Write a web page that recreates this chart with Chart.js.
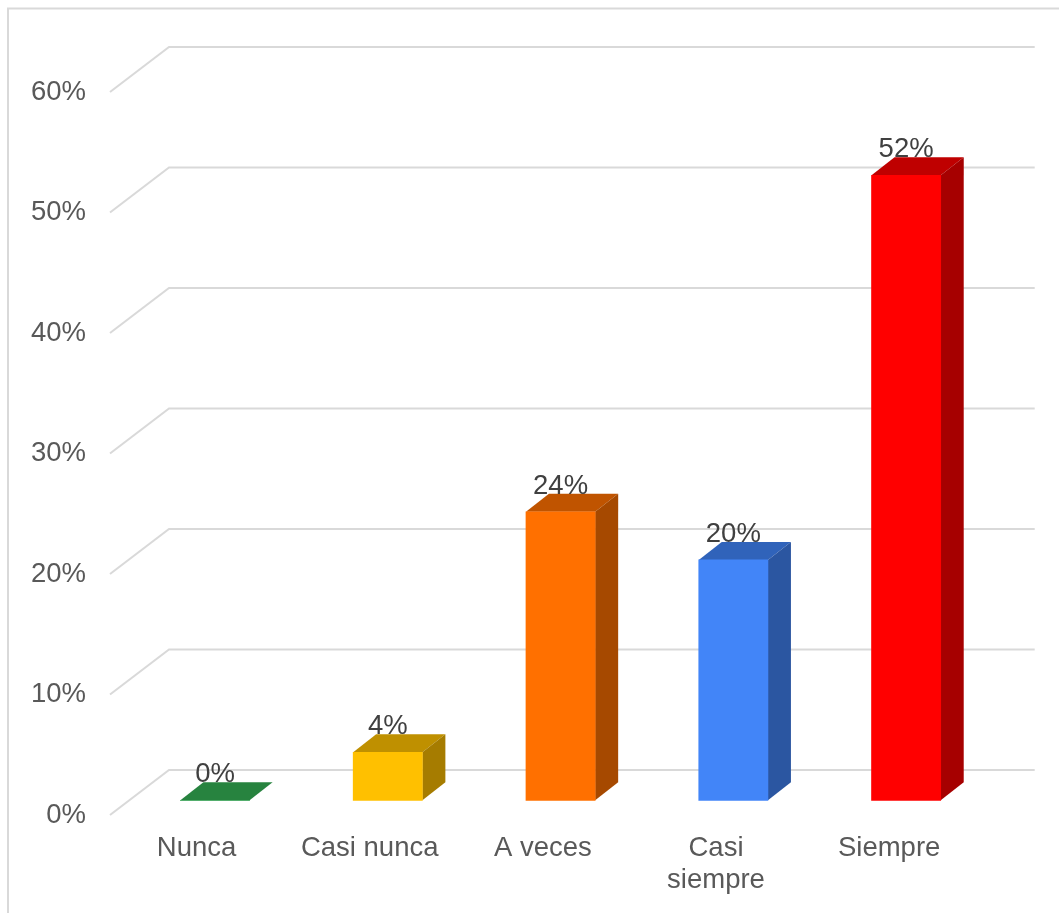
<!DOCTYPE html>
<html lang="es">
<head>
<meta charset="utf-8">
<title>Chart</title>
<style>html,body{margin:0;padding:0;background:#fff}canvas{display:block}</style>
<script src="https://cdn.jsdelivr.net/npm/chart.js@4/dist/chart.umd.js"></script>
</head>
<body>
<canvas id="c" width="1059" height="913"></canvas>
<script>
const categories = ['Nunca', 'Casi nunca', 'A veces', ['Casi', 'siempre'], 'Siempre'];
const values = [0, 4, 24, 20, 52];
const yTicks = [0, 10, 20, 30, 40, 50, 60];
const frontColors = ['#2E9E4D', '#FFC000', '#FF7000', '#4285F8', '#FF0000'];
const topColors = ['#27833F', '#BF9000', '#C05400', '#3063BA', '#BF0000'];
const sideColors = ['#1F6B33', '#A67C00', '#A64900', '#2B56A1', '#A60000'];

const FONT = '"Liberation Sans", Arial, sans-serif';
const FONT_SIZE = 27.5;
const GRID = '#D9D9D9';
const depthBar = { x: 23, y: 18 };
const depthWall = { x: 59, y: 45 };

const plugin3d = {
  id: 'plugin3d',
  beforeDraw(chart) {
    const c = chart.ctx;
    c.save();
    c.fillStyle = '#fff';
    c.fillRect(0, 0, chart.width, chart.height);
    c.strokeStyle = GRID;
    c.lineWidth = 2;
    c.beginPath();
    c.moveTo(8, chart.height);
    c.lineTo(8, 8.5);
    c.lineTo(chart.width, 8.5);
    c.stroke();
    c.restore();
  },
  beforeDatasetsDraw(chart) {
    const c = chart.ctx, y = chart.scales.y, a = chart.chartArea;
    c.save();
    c.strokeStyle = GRID;
    c.lineWidth = 2;
    yTicks.forEach(t => {
      const p = y.getPixelForValue(t);
      c.beginPath();
      c.moveTo(a.left, p);
      c.lineTo(a.left + depthWall.x, p - depthWall.y);
      c.lineTo(a.right + depthWall.x, p - depthWall.y);
      c.stroke();
    });
    const meta = chart.getDatasetMeta(0);
    meta.data.forEach((bar, i) => {
      const hw = bar.width / 2, l = bar.x - hw, r = bar.x + hw, t = bar.y, b = bar.base;
      c.fillStyle = topColors[i];
      c.beginPath();
      c.moveTo(l, t);
      c.lineTo(l + depthBar.x, t - depthBar.y);
      c.lineTo(r + depthBar.x, t - depthBar.y);
      c.lineTo(r, t);
      c.closePath();
      c.fill();
      if (b - t > 0) {
        c.fillStyle = sideColors[i];
        c.beginPath();
        c.moveTo(r, t);
        c.lineTo(r + depthBar.x, t - depthBar.y);
        c.lineTo(r + depthBar.x, b - depthBar.y);
        c.lineTo(r, b);
        c.closePath();
        c.fill();
      }
    });
    c.restore();
  },
  afterDatasetsDraw(chart) {
    const c = chart.ctx;
    c.save();
    c.font = FONT_SIZE + 'px ' + FONT;
    c.fillStyle = '#404040';
    c.textAlign = 'center';
    c.textBaseline = 'alphabetic';
    chart.getDatasetMeta(0).data.forEach((bar, i) => {
      c.fillText(values[i] + '%', bar.x, bar.y - 18);
    });
    c.restore();
  }
};

new Chart(document.getElementById('c'), {
  type: 'bar',
  data: {
    labels: categories,
    datasets: [{
      data: values.map((v, i) => ({ x: i, y: v })),
      backgroundColor: frontColors,
      borderWidth: 0,
      barThickness: 69.2,
      xAxisID: 'x1',
      yAxisID: 'y1'
    }]
  },
  options: {
    responsive: false,
    animation: false,
    layout: { padding: { left: 0, right: 83.3, top: 92, bottom: 0 } },
    plugins: { legend: { display: false }, title: { display: false }, tooltip: { enabled: false } },
    scales: {
      x: {
        type: 'category',
        labels: categories,
        offset: true,
        border: { display: false },
        grid: { display: false, drawTicks: false },
        ticks: {
          color: '#595959',
          font: { family: FONT, size: FONT_SIZE, lineHeight: 32 / FONT_SIZE },
          padding: 17,
          maxRotation: 0,
          minRotation: 0,
          autoSkip: false
        },
        afterFit(s) { s.height = 98; }
      },
      y: {
        type: 'linear',
        position: 'left',
        min: 0,
        max: 60,
        border: { display: false },
        grid: { display: false, drawTicks: false },
        ticks: {
          stepSize: 10,
          color: '#595959',
          font: { family: FONT, size: FONT_SIZE },
          padding: 24,
          callback: v => v + '%'
        },
        afterFit(s) { s.width = 110; }
      },
      x1: {
        type: 'linear',
        axis: 'x',
        display: false,
        offset: false,
        min: -0.6077,
        max: 4.4027
      },
      y1: {
        type: 'linear',
        axis: 'y',
        display: false,
        min: -1.223,
        max: 58.926
      }
    }
  },
  plugins: [plugin3d]
});
</script>
</body>
</html>
